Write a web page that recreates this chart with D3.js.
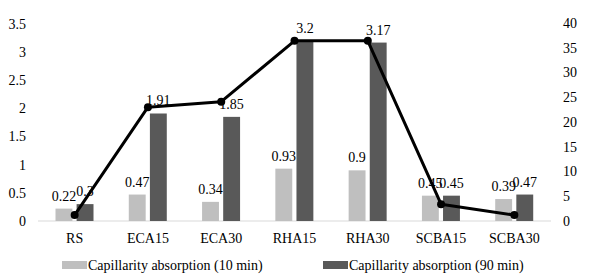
<html>
<head>
<title>capillarity absorption</title>
<script src="https://d3js.org/d3.v7.min.js"></script>
<style>
  body { margin: 0; background: #fff; }
</style>
</head>
<body>
<svg id="chart" width="595" height="280"></svg>
<script>
const categories = ["RS", "ECA15", "ECA30", "RHA15", "RHA30", "SCBA15", "SCBA30"];
const abs10 = [0.22, 0.47, 0.34, 0.93, 0.9, 0.45, 0.39];
const abs90 = [0.3, 1.91, 1.85, 3.2, 3.17, 0.45, 0.47];
const lineVals = [1.2, 23.0, 24.1, 36.4, 36.4, 3.4, 1.2];
const leftTicks = [0, 0.5, 1, 1.5, 2, 2.5, 3, 3.5];
const rightTicks = [0, 5, 10, 15, 20, 25, 30, 35, 40];
const seriesNames = ["Capillarity absorption (10 min)", "Capillarity absorption (90 min)"];

const svg = d3.select("#chart")
  .attr("font-family", "'Liberation Serif', 'DejaVu Serif', serif")
  .attr("font-size", 14);
const colors = ["#bfbfbf", "#595959"];

const x = d3.scaleBand().domain(categories).range([38, 551]).padding(0);
const x1 = d3.scaleBand().domain([0, 1]).range([17.5, 55.5]).paddingInner(0.2);
const yL = d3.scaleLinear().domain([0, 3.5]).range([221, 24]);
const yR = d3.scaleLinear().domain([0, 40]).range([221, 23]);

// left axis labels
svg.append("g").selectAll("text").data(leftTicks).join("text")
  .attr("x", 26).attr("y", d => yL(d)).attr("dy", "0.35em")
  .attr("text-anchor", "end").attr("fill", "#000")
  .text(d => d);

// right axis labels
svg.append("g").selectAll("text").data(rightTicks).join("text")
  .attr("x", 563).attr("y", d => yR(d)).attr("dy", "0.35em")
  .attr("text-anchor", "start").attr("fill", "#000")
  .text(d => d);

// baseline
svg.append("line")
  .attr("x1", 38).attr("x2", 551).attr("y1", yL(0)).attr("y2", yL(0))
  .attr("stroke", "#d9d9d9").attr("stroke-width", 1);

// bars
const series = [abs10, abs90];
const groups = svg.append("g").selectAll("g").data(categories).join("g")
  .attr("transform", d => "translate(" + x(d) + ",0)");

groups.selectAll("rect").data((d, i) => series.map((s, k) => ({k: k, v: s[i]}))).join("rect")
  .attr("x", d => x1(d.k))
  .attr("width", x1.bandwidth())
  .attr("y", d => yL(d.v))
  .attr("height", d => yL(0) - yL(d.v))
  .attr("fill", d => colors[d.k]);

groups.selectAll("text").data((d, i) => series.map((s, k) => ({k: k, v: s[i]}))).join("text")
  .attr("x", d => x1(d.k) + x1.bandwidth() / 2)
  .attr("y", d => yL(d.v) - 8)
  .attr("text-anchor", "middle")
  .attr("fill", "#000")
  .text(d => d.v);

// category labels
svg.append("g").selectAll("text").data(categories).join("text")
  .attr("x", d => x(d) + x.bandwidth() / 2)
  .attr("y", 243)
  .attr("text-anchor", "middle").attr("fill", "#000")
  .text(d => d);

// line on secondary axis
const line = d3.line()
  .x((d, i) => x(categories[i]) + x.bandwidth() / 2)
  .y(d => yR(d));

svg.append("path").datum(lineVals)
  .attr("d", line).attr("fill", "none")
  .attr("stroke", "#000").attr("stroke-width", 3).attr("stroke-linejoin", "round");

svg.append("g").selectAll("circle").data(lineVals).join("circle")
  .attr("cx", (d, i) => x(categories[i]) + x.bandwidth() / 2)
  .attr("cy", d => yR(d))
  .attr("r", 4).attr("fill", "#000");

// legend
const legendX = [62, 323];
const leg = svg.append("g").selectAll("g").data(seriesNames).join("g")
  .attr("transform", (d, i) => "translate(" + legendX[i] + ",261)");
leg.append("rect").attr("width", 25).attr("height", 8).attr("fill", (d, i) => colors[i]);
leg.append("text").attr("x", 26).attr("y", 4).attr("dy", "0.35em")
  .attr("fill", "#000").text(d => d);
</script>
</body>
</html>
